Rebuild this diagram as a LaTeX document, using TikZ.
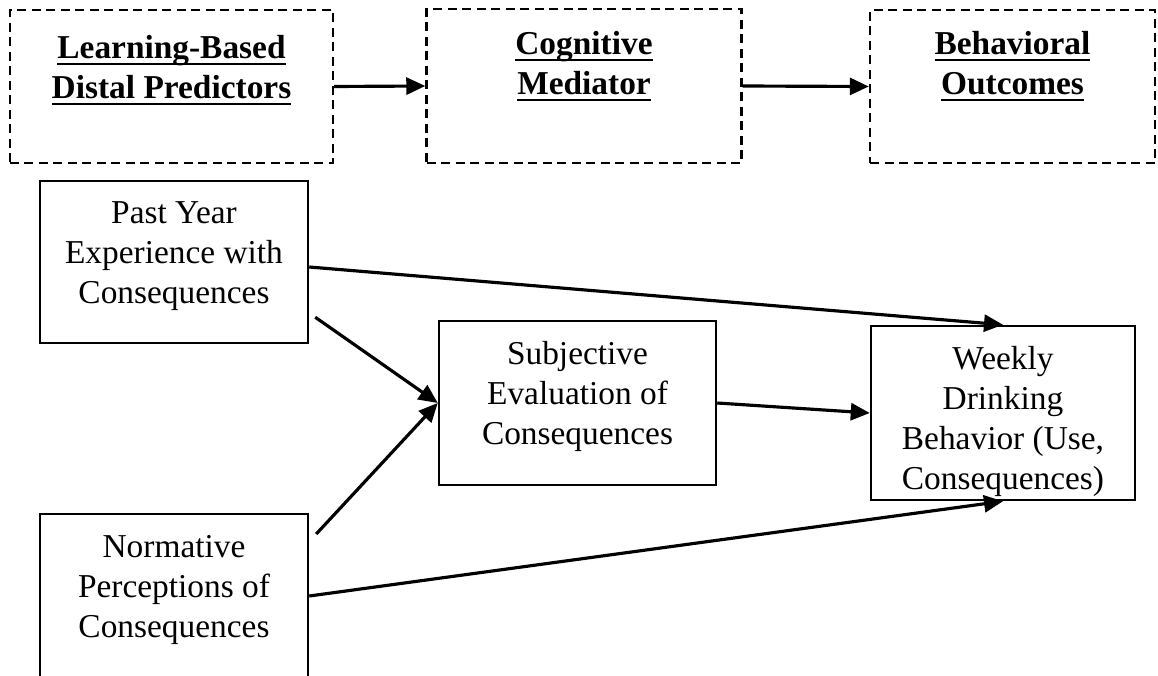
\documentclass[tikz,border=0pt]{standalone}
\usepackage{fontspec}
\setmainfont{Liberation Serif}
\usetikzlibrary{arrows.meta}

\newcommand{\hdul}[1]{\setbox0=\hbox{#1}\rlap{\rule[-3.6pt]{\wd0}{1.2pt}}\box0}

\tikzset{
	dashbox/.style={draw, line width=1.4pt, dash pattern=on 0.18cm off 0.11cm},
	solidbox/.style={draw, line width=1.4pt},
	txt/.style={align=center, inner sep=0pt, font=\fontsize{19}{22.76}\selectfont},
	hdtxt/.style={txt, font=\fontsize{19}{22.76}\selectfont\bfseries},
	link/.style={line width=1.8pt, -{Triangle[length=0.38cm,width=0.34cm]}}
}

\begin{document}
\begin{tikzpicture}
	
	\clip (0,0) rectangle (23.16,13.5);
	
	% header row
	\node[dashbox, minimum width=6.46cm, minimum height=3.06cm] (distal) at (3.43,11.77) {};
	\node[hdtxt] (distaltxt) at (3.43,12.1) {\hdul{Learning-Based}\\\hdul{Distal Predictors}};
	
	\node[dashbox, minimum width=6.3cm, minimum height=3.08cm] (mediator) at (11.68,11.78) {};
	\node[hdtxt] (mediatortxt) at (11.68,12.18) {\hdul{Cognitive}\\\hdul{Mediator}};
	
	\node[dashbox, minimum width=5.7cm, minimum height=3.06cm] (outcomes) at (20.25,11.77) {};
	\node[hdtxt] (outcomestxt) at (20.25,12.17) {\hdul{Behavioral}\\\hdul{Outcomes}};
	
	\draw[link] (distal.east) -- (mediator.west);
	\draw[link] (mediator.east) -- (outcomes.west);
	
	% model
	\node[solidbox, minimum width=5.36cm, minimum height=3.24cm] (past) at (3.48,8.26) {};
	\node[txt] (pasttxt) at (3.48,8.38) {Past Year\\Experience with\\Consequences};
	
	\node[solidbox, minimum width=5.36cm, minimum height=3.8cm, anchor=north] (norm) at (3.48,3.24) {};
	\node[txt] (normtxt) at (3.48,1.71) {Normative\\Perceptions of\\Consequences};
	
	\node[solidbox, minimum width=5.54cm, minimum height=3.28cm] (subj) at (11.55,5.44) {};
	\node[txt] (subjtxt) at (11.55,5.58) {Subjective\\Evaluation of\\Consequences};
	
	\node[solidbox, minimum width=5.28cm, minimum height=3.48cm] (weekly) at (20.06,5.24) {};
	\node[txt] (weeklytxt) at (20.06,5.07) {Weekly\\Drinking\\Behavior (Use,\\Consequences)};
	
	\draw[link] ([yshift=-0.1cm]past.east) -- (weekly.north);
	\draw[link] ([shift={(0.12cm,0.54cm)}]past.south east) -- (subj.west);
	\draw[link] ([shift={(0.14cm,-0.42cm)}]norm.north east) -- (subj.west);
	\draw[link] (subj.east) -- (weekly.west);
	\draw[link] ([yshift=-1.66cm]norm.north east) -- (weekly.south);
	
\end{tikzpicture}
\end{document}
